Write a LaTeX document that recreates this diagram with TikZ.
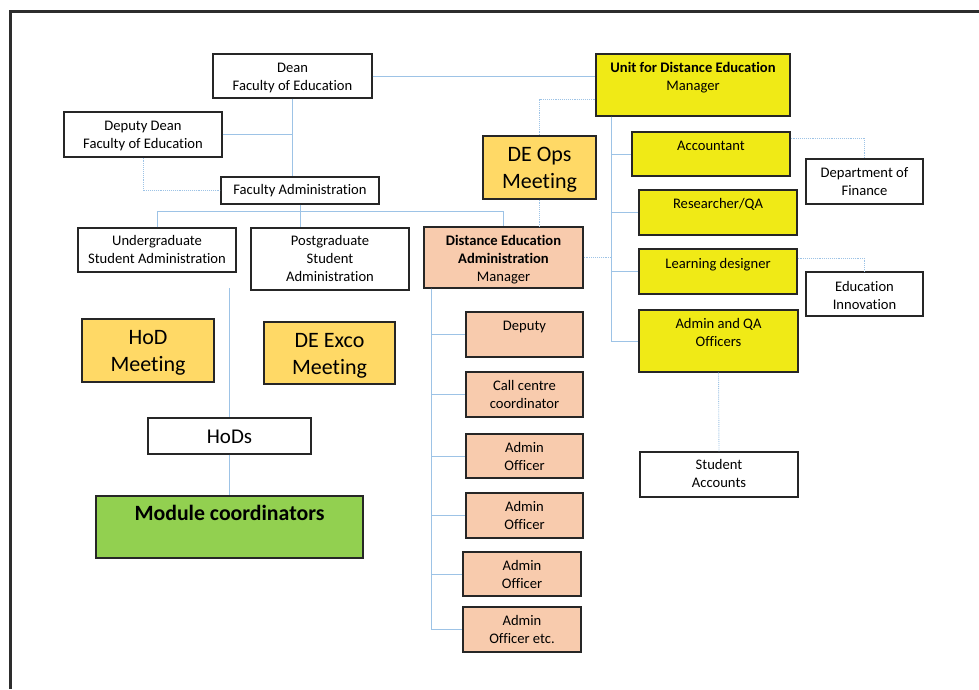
\documentclass[tikz,border=0pt]{standalone}
\usepackage{fontspec}
\setmainfont{Carlito}[Ligatures=NoCommon]
\usetikzlibrary{calc}
\definecolor{boxline}{RGB}{38,38,38}
\definecolor{linkblue}{RGB}{157,195,230}
\definecolor{frameline}{RGB}{45,45,45}
\definecolor{unityellow}{RGB}{240,234,22}
\definecolor{meetgold}{RGB}{255,217,102}
\definecolor{peach}{RGB}{248,203,173}
\definecolor{modgreen}{RGB}{146,208,80}
% text block of fixed size: width, height, first baseline from top, text
\newcommand\tblock[4]{\parbox[c][#2][t]{#1}{\centering\rule{0pt}{#3}#4}}
\begin{document}
\begin{tikzpicture}[x=1pt,y=-1pt,
  box/.style={draw=boxline, line width=1.3pt, inner sep=0pt,
    font=\fontsize{14.6}{18}\selectfont},
  bigtxt/.style={font=\fontsize{22}{27}\selectfont},
  link/.style={draw=linkblue, line width=1pt},
  dlink/.style={draw=linkblue, line width=0.9pt, densely dotted},
]
\useasboundingbox (0,0) rectangle (979,689);
\fill[white] (0,0) rectangle (979,689);
% page frame
\draw[frameline, line width=3pt] (979,11) -- (10.5,11) -- (10.5,689);

% faculty side
\node[box] (dean) at (292.5,76) {\tblock{159pt}{44pt}{18.3pt}{Dean\\Faculty of Education}};
\node[box] (ddean) at (143,134.5) {\tblock{158pt}{45pt}{18.3pt}{Deputy Dean\\Faculty of Education}};
\node[box] (facadm) at (300,190.5) {\tblock{158pt}{27pt}{17.7pt}{Faculty Administration}};
\node[box] (ug) at (157,250) {\tblock{158pt}{44pt}{17.7pt}{Undergraduate\\Student Administration}};
\node[box] (pg) at (330,259) {\tblock{158pt}{62pt}{17.7pt}{Postgraduate\\Student\\Administration}};
\node[box, bigtxt, fill=meetgold] (hodm) at (148,350.5) {\tblock{132pt}{63pt}{25.3pt}{HoD\\Meeting}};
\node[box, bigtxt, fill=meetgold] (exco) at (329.5,353) {\tblock{131pt}{62pt}{25.3pt}{DE Exco\\Meeting}};
\node[box, font=\fontsize{21}{25}\selectfont] (hods) at (229.5,436) {\tblock{163pt}{36pt}{25.3pt}{HoDs}};
\node[box, fill=modgreen, font=\fontsize{21.8}{26}\selectfont\bfseries] (mod) at (229.5,527)
  {\tblock{267pt}{62pt}{24.7pt}{Module coordinators}};

% distance education unit
\node[box, fill=unityellow] (unit) at (693,85)
  {\tblock{194pt}{62pt}{18.3pt}{\textbf{Unit for Distance Education}\\Manager}};
\node[box, bigtxt, fill=meetgold] (deops) at (539.5,167.5) {\tblock{113pt}{63pt}{25.7pt}{DE Ops\\Meeting}};
\node[box, fill=unityellow] (acc) at (711,154) {\tblock{158pt}{44pt}{18.7pt}{Accountant}};
\node[box, fill=unityellow] (res) at (718,212.5) {\tblock{158pt}{45pt}{18pt}{Researcher/QA}};
\node[box, fill=unityellow] (learn) at (718,271.5) {\tblock{158pt}{45pt}{19pt}{Learning designer}};
\node[box, fill=unityellow] (aqa) at (718.5,341) {\tblock{159pt}{62pt}{18.3pt}{Admin and QA\\Officers}};
\node[box] (dof) at (864.5,181.5) {\tblock{117pt}{45pt}{18.7pt}{Department of\\Finance}};
\node[box] (ei) at (864.5,294) {\tblock{117pt}{44pt}{19pt}{Education\\Innovation}};
\node[box] (sa) at (719,474.5) {\tblock{158pt}{45pt}{17.3pt}{Student\\Accounts}};

% distance education administration
\node[box, fill=peach] (dea) at (503.5,257.5)
  {\tblock{159pt}{61pt}{18pt}{\textbf{Distance Education}\\\textbf{Administration}\\Manager}};
\node[box, fill=peach] (dep) at (524.5,334.5) {\tblock{117pt}{45pt}{18pt}{Deputy}};
\node[box, fill=peach] (cc) at (524.5,394.5) {\tblock{117pt}{45pt}{18pt}{Call centre\\coordinator}};
\node[box, fill=peach] (ao1) at (524.5,456) {\tblock{117pt}{44pt}{18.3pt}{Admin\\Officer}};
\node[box, fill=peach] (ao2) at (524.5,515.5) {\tblock{117pt}{45pt}{18.7pt}{Admin\\Officer}};
\node[box, fill=peach] (ao3) at (522,574) {\tblock{118pt}{44pt}{18.7pt}{Admin\\Officer}};
\node[box, fill=peach] (ao4) at (522,629.5) {\tblock{118pt}{45pt}{18.7pt}{Admin\\Officer etc.}};

% junction points of the connector trunks
\coordinate (uv) at ([xshift=16pt]unit.south west);
\coordinate (dv) at ([xshift=8pt]dea.south west);
\coordinate (hodsline) at (229.5,288);

% solid reporting lines
\draw[link] (dean.east) -- (dean.east -| unit.west);
\draw[link] (dean.south) -- (dean.south |- facadm.north);
\draw[link] (ddean.east) -- (ddean.east -| dean.south);
\draw[link] (facadm.south) -- (facadm.south |- pg.north);
\draw[link] (ug.north) -- ++(0,-16) -| (dea.north);
\draw[link] (uv) |- (acc.west);
\draw[link] (uv) |- (res.west);
\draw[link] (uv) |- (learn.west);
\draw[link] (uv) |- (aqa.west);
\draw[link] (dv) |- (dep.west);
\draw[link] (dv) |- (cc.west);
\draw[link] (dv) |- (ao1.west);
\draw[link] (dv) |- (ao2.west);
\draw[link] (dv) |- (ao3.west);
\draw[link] (dv) |- (ao4.west);
\draw[link] (hodsline) -- (hods.north);
\draw[link] (hods.south) -- (mod.north);
% dotted advisory lines
\draw[dlink] (ddean.south) |- (facadm.west);
\draw[dlink] ([yshift=-14pt]unit.west) -| (deops.north);
\draw[dlink] (deops.south) -- (deops.south |- dea.north);
\draw[dlink] (dea.east) -- (dea.east -| uv);
\draw[dlink] ([yshift=16pt]acc.east) -| (dof.north);
\draw[dlink] ([yshift=13.5pt]learn.east) -| (ei.north);
\draw[dlink] (aqa.south) -- (sa.north);
\end{tikzpicture}
\end{document}
